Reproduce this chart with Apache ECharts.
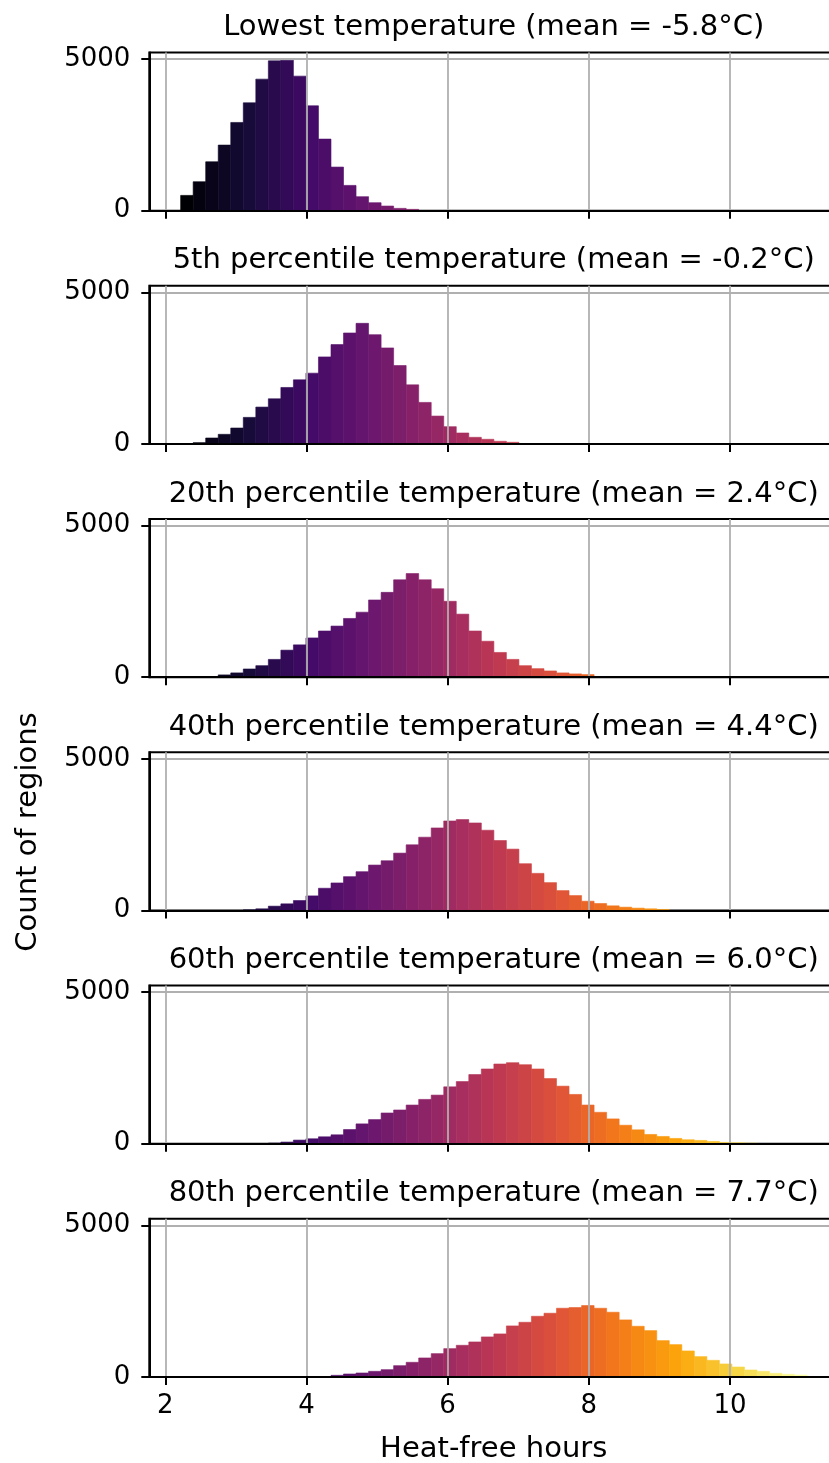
<!DOCTYPE html>
<html>
<head>
<meta charset="utf-8">
<script src="https://cdn.jsdelivr.net/npm/echarts@6/dist/echarts.min.js"></script>
<style>
html, body { margin: 0; padding: 0; background: #fff; }
#chart { width: 829px; height: 1463px; }
</style>
</head>
<body>
<div id="chart"></div>
<script>
// histogram bins (50 shared bins)
var binStart = 2.218;
var binWidth = 0.1775;
var xTicks = [2, 4, 6, 8, 10];
var yTicks = [0, 5000];

var titles = [
    "Lowest temperature (mean = -5.8°C)",
    "5th percentile temperature (mean = -0.2°C)",
    "20th percentile temperature (mean = 2.4°C)",
    "40th percentile temperature (mean = 4.4°C)",
    "60th percentile temperature (mean = 6.0°C)",
    "80th percentile temperature (mean = 7.7°C)"
];

// counts per bin
var lowest = [505, 956, 1615, 2165, 2912, 3560, 4341, 4945, 4967, 4440, 3462, 2363, 1440, 835, 462, 264, 154, 77, 44,
    0, 0, 0, 0, 0, 0, 0, 0, 0, 0, 0, 0, 0, 0, 0, 0, 0, 0, 0, 0, 0, 0, 0, 0, 0, 0, 0, 0, 0, 0, 0];
var p5 = [0, 44, 197, 318, 526, 877, 1217, 1491, 1864, 2116, 2336, 2873, 3279, 3662, 3980, 3607, 3169, 2588, 1952, 1371,
    921, 570, 362, 219, 154, 88, 55, 0, 0, 0, 0, 0, 0, 0, 0, 0, 0, 0, 0, 0, 0, 0, 0, 0, 0, 0, 0, 0, 0, 0];
var p20 = [0, 0, 0, 76, 142, 272, 381, 588, 893, 1068, 1296, 1525, 1688, 1939, 2146, 2549, 2800, 3214, 3420, 3214,
    2919, 2505, 2081, 1525, 1187, 817, 588, 381, 283, 207, 142, 109, 87, 0, 0, 0, 0, 0, 0, 0, 0, 0, 0, 0, 0, 0, 0, 0, 0, 0];
var p40 = [0, 0, 0, 0, 0, 22, 55, 142, 219, 328, 481, 733, 908, 1116, 1280, 1499, 1641, 1893, 2166, 2418,
    2724, 2954, 2998, 2888, 2648, 2309, 2024, 1543, 1225, 919, 656, 492, 306, 230, 153, 109, 77, 55, 33, 0,
    0, 0, 0, 0, 0, 0, 0, 0, 0, 0];
var p60 = [0, 0, 0, 0, 0, 0, 0, 22, 55, 120, 164, 229, 295, 469, 655, 797, 1015, 1114, 1277, 1463,
    1605, 1878, 2052, 2282, 2467, 2631, 2675, 2609, 2467, 2150, 1900, 1627, 1277, 1037, 819, 611, 459, 306, 240, 175,
    131, 109, 76, 44, 33, 22, 0, 0, 0, 0];
var p80 = [0, 0, 0, 0, 0, 0, 0, 0, 0, 0, 0, 11, 55, 99, 132, 187, 242, 374, 485, 628,
    771, 936, 1046, 1156, 1322, 1421, 1685, 1806, 2004, 2104, 2269, 2291, 2357, 2269, 2137, 1883, 1674, 1531, 1200, 1068,
    859, 672, 551, 430, 330, 231, 187, 121, 88, 66];

var panels = [lowest, p5, p20, p40, p60, p80];

// inferno colormap stops
var inferno = ['#000004', '#160b39', '#420a68', '#6a176e', '#932667', '#bc3754',
    '#dd513a', '#f37819', '#fca50a', '#f6d746', '#fcffa4'];

function hexRgb(h) {
    return [parseInt(h.substr(1, 2), 16), parseInt(h.substr(3, 2), 16), parseInt(h.substr(5, 2), 16)];
}
function cmap(t) {
    var p = t * (inferno.length - 1);
    var i = Math.min(Math.floor(p), inferno.length - 2);
    var f = p - i;
    var a = hexRgb(inferno[i]), b = hexRgb(inferno[i + 1]);
    return 'rgb(' + Math.round(a[0] + (b[0] - a[0]) * f) + ',' +
        Math.round(a[1] + (b[1] - a[1]) * f) + ',' +
        Math.round(a[2] + (b[2] - a[2]) * f) + ')';
}

var font = 'DejaVu Sans';
var xMin = 1.774, xMax = 11.531;
var yMax = 5220;
var gridLeft = 149.3, gridWidth = 688.7;
var firstBase = 210.7, step = 233.26, plotH = 158.2;

var grids = [], xAxes = [], yAxes = [], series = [], graphics = [];

panels.forEach(function (counts, i) {
    var base = firstBase + step * i;
    grids.push({
        left: gridLeft, width: gridWidth, top: base - plotH, height: plotH,
        outerBoundsMode: 'none', containLabel: false,
        show: true, borderColor: '#000', borderWidth: 2, backgroundColor: 'transparent'
    });
    xAxes.push({
        gridIndex: i, type: 'value', min: xMin, max: xMax, z: 6,
        axisLine: { show: true, onZero: false, lineStyle: { color: '#000', width: 2 } },
        axisTick: { show: true, customValues: xTicks, length: 8, lineStyle: { color: '#000', width: 2 } },
        axisLabel: {
            show: i === panels.length - 1, customValues: xTicks, fontSize: 26, fontFamily: font,
            color: '#000', margin: 16, formatter: function (v) { return String(v); }
        },
        splitLine: { show: true, lineStyle: { color: '#b0b0b0', width: 1.8 } }
    });
    yAxes.push({
        gridIndex: i, type: 'value', min: 0, max: yMax, interval: 5000, z: 4,
        axisLine: { show: true, lineStyle: { color: '#000', width: 2 } },
        axisTick: { show: true, customValues: yTicks, length: 8, lineStyle: { color: '#000', width: 2 } },
        axisLabel: {
            customValues: yTicks, fontSize: 26, fontFamily: font, color: '#000', margin: 19,
            formatter: function (v) { return String(v); }
        },
        splitLine: { show: true, lineStyle: { color: '#b0b0b0', width: 1.8 } }
    });

    var data = [];
    counts.forEach(function (c, k) {
        if (c > 0) {
            data.push([binStart + k * binWidth, binStart + (k + 1) * binWidth, c, k]);
        }
    });
    series.push({
        type: 'custom',
        xAxisIndex: i, yAxisIndex: i, z: 2,
        encode: { x: [0, 1], y: 2 },
        data: data,
        renderItem: function (params, api) {
            var p0 = api.coord([api.value(0), api.value(2)]);
            var p1 = api.coord([api.value(1), 0]);
            var col = cmap(api.value(3) / 49);
            return {
                type: 'rect',
                shape: { x: p0[0], y: p0[1], width: p1[0] - p0[0], height: p1[1] - p0[1] },
                style: { fill: col, stroke: col, lineWidth: 0.6 }
            };
        }
    });

    graphics.push({
        type: 'text', x: 493.7, y: base - plotH - 25,
        style: {
            text: titles[i], fill: '#000', font: '29px "DejaVu Sans"',
            textAlign: 'center', textVerticalAlign: 'middle', align: 'center', verticalAlign: 'middle'
        }
    });
});

graphics.push({
    type: 'text', x: 28, y: 832, rotation: Math.PI / 2,
    style: {
        text: 'Count of regions', fill: '#000', font: '29px "DejaVu Sans"',
        textAlign: 'center', textVerticalAlign: 'middle', align: 'center', verticalAlign: 'middle'
    }
});
graphics.push({
    type: 'text', x: 493.7, y: 1449,
    style: {
        text: 'Heat-free hours', fill: '#000', font: '29px "DejaVu Sans"',
        textAlign: 'center', textVerticalAlign: 'middle', align: 'center', verticalAlign: 'middle'
    }
});

var myChart = echarts.init(document.getElementById('chart'));
myChart.setOption({
    animation: false,
    backgroundColor: '#fff',
    grid: grids,
    xAxis: xAxes,
    yAxis: yAxes,
    series: series,
    graphic: graphics
});
</script>
</body>
</html>
